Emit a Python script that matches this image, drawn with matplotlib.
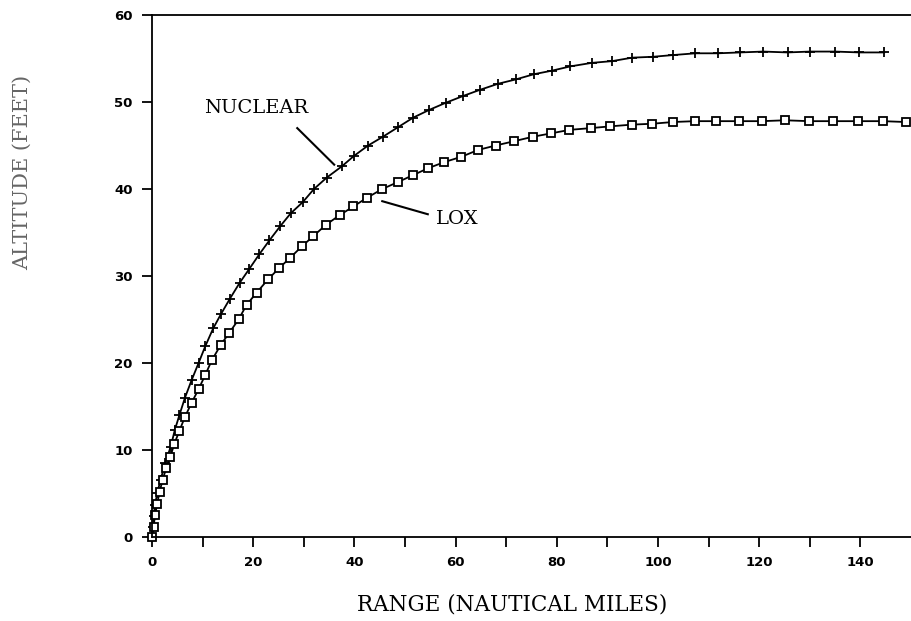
import matplotlib
matplotlib.use('Agg')
import matplotlib.pyplot as plt
import numpy as np

# values (range in n.mi., altitude in 1000 ft)
nuc_x = [0, 0.1, 0.3, 0.6, 1.0, 1.7, 2.6, 3.7, 4.5, 5.4, 6.5, 7.8, 9.2, 10.5, 12.1,
         13.6, 15.4, 17.3, 19.2, 21.2, 23.2, 25.3, 27.4, 29.8, 32.0, 34.5, 37.5, 39.9,
         42.7, 45.6, 48.6, 51.6, 54.8, 58.0, 61.5, 64.8, 68.4, 71.9, 75.5, 79.0, 82.7,
         86.9, 90.9, 94.9, 99.0, 103.0, 107.4, 111.8, 116.2, 120.8, 125.6, 130.1,
         135.0, 139.8, 144.7]
nuc_y = [0, 1.2, 2.4, 3.7, 5.0, 6.6, 8.5, 10.4, 12.3, 14.0, 16.0, 18.0, 20.0, 21.9, 24.0,
         25.6, 27.4, 29.2, 30.8, 32.5, 34.1, 35.7, 37.2, 38.5, 40.0, 41.3, 42.6, 43.8,
         45.0, 46.0, 47.1, 48.2, 49.1, 49.9, 50.7, 51.4, 52.1, 52.6, 53.2, 53.6, 54.1,
         54.5, 54.7, 55.1, 55.2, 55.4, 55.6, 55.6, 55.7, 55.8, 55.7, 55.8,
         55.8, 55.7, 55.7]

lox_x = [0, 0.3, 0.6, 1.0, 1.5, 2.1, 2.8, 3.6, 4.4, 5.4, 6.5, 7.8, 9.2, 10.5, 11.8,
         13.6, 15.3, 17.1, 18.7, 20.7, 22.9, 25.1, 27.3, 29.6, 31.9, 34.4, 37.1, 39.8,
         42.5, 45.5, 48.6, 51.6, 54.6, 57.8, 61.1, 64.5, 67.9, 71.6, 75.2, 78.9, 82.5,
         86.7, 90.5, 94.8, 98.8, 102.9, 107.3, 111.4, 116.1, 120.6, 125.1, 129.9,
         134.6, 139.5, 144.5, 149.0]
lox_y = [0, 1.2, 2.5, 3.8, 5.2, 6.6, 7.9, 9.2, 10.7, 12.2, 13.8, 15.4, 17.0, 18.6, 20.3,
         22.1, 23.5, 25.0, 26.7, 28.1, 29.6, 30.9, 32.1, 33.4, 34.6, 35.9, 37.0, 38.0,
         39.0, 40.0, 40.8, 41.6, 42.4, 43.1, 43.7, 44.5, 45.0, 45.5, 46.0, 46.4, 46.8,
         47.0, 47.2, 47.4, 47.5, 47.7, 47.8, 47.8, 47.8, 47.8, 47.9, 47.8,
         47.8, 47.8, 47.8, 47.7]

xticks = [0, 20, 40, 60, 80, 100, 120, 140]
yticks = [0, 10, 20, 30, 40, 50, 60]

typewriter = 'DejaVu Serif'

fig = plt.figure(figsize=(9.11, 6.21), dpi=100)
ax = fig.add_axes([0.1669, 0.1353, 0.8331, 0.8405])

ax.plot(nuc_x, nuc_y, color='black', lw=1.3, marker='+', ms=7, mew=1.3, clip_on=False)
ax.plot(lox_x, lox_y, color='black', lw=1.3, marker='s', ms=5.5, mew=1.3,
        mfc='white', clip_on=False)

# curve labels with leader lines
ax.text(10.3, 49.3, 'NUCLEAR', fontsize=14, family=typewriter, va='center')
ax.plot([28.7, 36.0], [47.0, 42.8], color='black', lw=1.5)
ax.text(56.2, 36.6, 'LOX', fontsize=14, family=typewriter, va='center')
ax.plot([45.5, 54.5], [38.6, 37.1], color='black', lw=1.5)

ax.set_xlim(0, 150)
ax.set_ylim(0, 60)
ax.set_xticks(xticks)
ax.set_xticks(np.arange(10, 150, 20), minor=True)
ax.set_yticks(yticks)
ax.spines['right'].set_visible(False)
for s in ['left', 'bottom', 'top']:
    ax.spines[s].set_linewidth(1.3)
ax.tick_params(axis='both', which='both', direction='out', length=7, width=1.3)
ax.tick_params(axis='both', labelsize=9.5, pad=7)
for lab in ax.get_xticklabels() + ax.get_yticklabels():
    lab.set_fontweight('bold')

ax.set_xlabel('RANGE (NAUTICAL MILES)', fontsize=15.5, family=typewriter)
ax.xaxis.set_label_coords(0.474, -0.108)
fig.text(22 / 911, 1 - 172 / 621, 'ALTITUDE (FEET)', rotation=90, fontsize=15,
         family=typewriter, color='#666666', ha='center', va='center')

plt.savefig('out.png', dpi=100)
